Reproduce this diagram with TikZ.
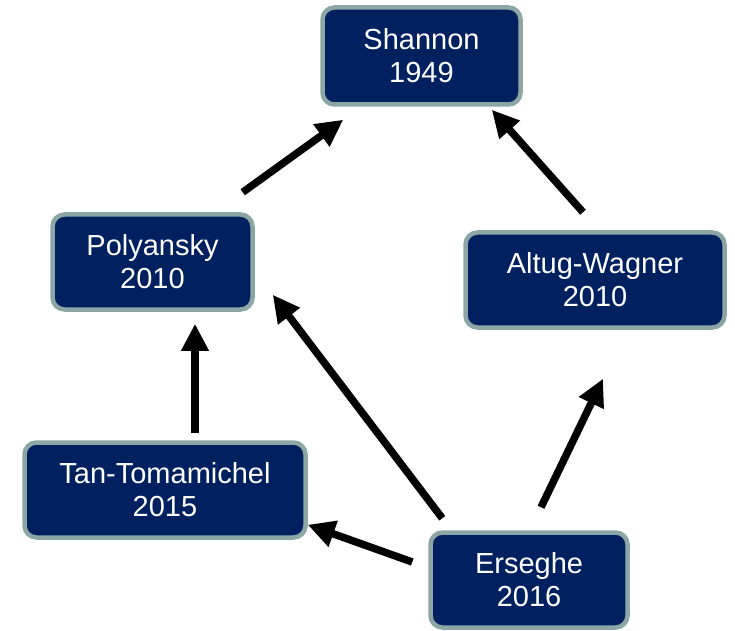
\documentclass[tikz,border=0pt]{standalone}
\usepackage{fontspec}
\setmainfont{Liberation Sans}
\usetikzlibrary{arrows.meta}

\definecolor{boxfill}{RGB}{0,32,96}
\definecolor{boxline}{RGB}{140,166,166}

\tikzset{
  paper/.style={
    draw=boxline, line width=4.5pt, fill=boxfill, rounded corners=12pt,
    text=white, align=center, inner sep=0pt,
    font=\fontsize{29}{33}\selectfont
  },
  cite/.style={
    line width=7.5pt, draw=black,
    -{Triangle[length=27pt,width=26pt]}
  }
}

\begin{document}
\begin{tikzpicture}[x=1pt,y=1pt]
  \useasboundingbox (0,0) rectangle (735,630);

  % papers
  \node[paper, minimum width=198pt, minimum height=97pt] (shannon) at (421.5,574) {Shannon\\1949};
  \node[paper, minimum width=200pt, minimum height=95pt] (poly) at (152.5,368) {Polyansky\\2010};
  \node[paper, minimum width=259pt, minimum height=95pt] (altug) at (595,350) {Altug-Wagner\\2010};
  \node[paper, minimum width=281pt, minimum height=95pt] (tan) at (165,140) {Tan-Tomamichel\\2015};
  \node[paper, minimum width=197pt, minimum height=95pt] (ersg) at (529,50) {Erseghe\\2016};

  % citation arrows
  \draw[cite] ([shift={(-12,20)}]poly.north east) -- ([shift={(23,-13)}]shannon.south west);
  \draw[cite] ([shift={(-12,18)}]altug.north) -- ([shift={(-31,-3)}]shannon.south east);
  \draw[cite] ([shift={(30,7)}]tan.north) -- ([shift={(42.5,-12)}]poly.south);
  \draw[cite] ([shift={(14,12)}]ersg.north west) -- ([shift={(18,17)}]poly.south east);
  \draw[cite] ([shift={(12,23)}]ersg.north) -- ([shift={(8,-49)}]altug.south);
  \draw[cite] ([shift={(-16,18)}]ersg.west) -- ([shift={(0,15)}]tan.south east);
\end{tikzpicture}
\end{document}
